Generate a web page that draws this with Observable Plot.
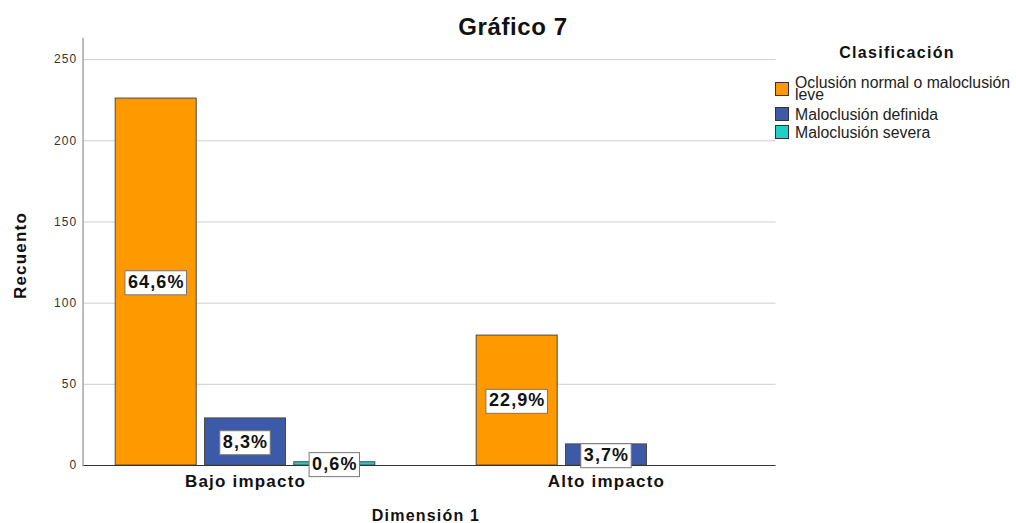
<!DOCTYPE html>
<html>
<head>
<meta charset="utf-8">
<script src="https://cdn.jsdelivr.net/npm/d3@7"></script>
<script src="https://cdn.jsdelivr.net/npm/@observablehq/plot@0.6"></script>
<style>
  html, body { margin: 0; padding: 0; background: #fff; }
  #wrap { position: relative; width: 1016px; height: 523px; overflow: hidden; font-family: "Liberation Sans", Arial, sans-serif; }
  #wrap svg { position: absolute; left: 0; top: 0; }
  .title { position: absolute; left: 0; width: 1026px; top: 15px; text-align: center; font-size: 24px; line-height: 24px; font-weight: bold; letter-spacing: 0.6px; color: #111; }
  .ltitle { position: absolute; left: 797px; width: 200px; top: 45px; text-align: center; font-size: 16px; line-height: 16px; font-weight: bold; letter-spacing: 1.3px; color: #111; }
  .sw { position: absolute; left: 775px; width: 14px; height: 14px; box-sizing: border-box; border: 1px solid #333; }
  .lt { position: absolute; left: 795px; width: 224px; font-size: 15.8px; line-height: 12px; color: #222; }
  .pct text { letter-spacing: 1.1px; }
  .ytick text { letter-spacing: 1px; }
  .bold1 text { letter-spacing: 1.2px; }
</style>
</head>
<body>
<div id="wrap"></div>
<script>
// ---- data ----
const groups = ["Bajo impacto", "Alto impacto"];
const categories = ["Oclusión normal o maloclusión leve", "Maloclusión definida", "Maloclusión severa"];
const bajoCounts = [226, 29, 2];
const altoCounts = [80, 13, 0];
const colors = ["#ff9900", "#3c5aa8", "#20cfca"];
const yTicks = [0, 50, 100, 150, 200, 250];
const chartTitle = "Gráfico 7";
const legendTitle = "Clasificación";
const xLabel = "Dimensión 1";
const yLabel = "Recuento";

const countsByGroup = [bajoCounts, altoCounts];
const rows = groups.flatMap((g, gi) => categories.map((c, ci) => ({group: g, category: c, count: countsByGroup[gi][ci]})));
const total = d3.sum(rows, d => d.count);
rows.forEach(d => { d.label = (d.count / total * 100).toFixed(1).replace(".", ",") + "%"; });
const shown = rows.filter(d => d.count > 0);

const W = 1016, ML = 76, MR = 241;
const plotW = W - ML - MR;

const chart = Plot.plot({
  width: W,
  height: 523,
  marginLeft: ML,
  marginRight: MR,
  marginTop: 38,
  marginBottom: 58,
  style: {fontFamily: "'Liberation Sans', Arial, sans-serif", background: "transparent", overflow: "visible"},
  fx: {domain: groups, paddingInner: 0.1, paddingOuter: 0.0182, axis: null, round: false},
  x: {domain: categories, paddingInner: 0.093, paddingOuter: 0.3655, axis: null, round: false},
  y: {domain: [0, 263]},
  color: {domain: categories, range: colors},
  marks: [
    // grid lines spanning the whole frame (drawn from the left facet)
    Plot.axisY(yTicks.filter(d => d > 0), {tickSize: -(plotW - 6), tickFormat: () => "", stroke: "#cfcfcf", strokeOpacity: 1, label: null}),
    Plot.barY(shown, {fx: "group", x: "category", y: "count", fill: "category", stroke: "#4a4a4a", strokeWidth: 1}),
    Plot.axisY([0], {tickSize: -(plotW - 6), tickFormat: () => "", stroke: "#333", strokeOpacity: 1, label: null}),
    Plot.frame({anchor: "left", stroke: "#a6a6a6", strokeWidth: 1.5, facet: "super"}),
    Plot.axisY(yTicks, {tickSize: 0, tickPadding: 6, fontSize: 12, fill: "#333", label: null, className: "ytick"}),
    Plot.text(groups, {fx: d => d, text: d => d, frameAnchor: "bottom", lineAnchor: "middle", dy: 16, fontSize: 17, fontWeight: "bold", fill: "#111", className: "bold1"}),
    Plot.text([xLabel], {text: d => d, frameAnchor: "bottom", textAnchor: "middle", lineAnchor: "middle", dy: 50, fontSize: 16, fontWeight: "bold", fill: "#111", facet: "super", className: "bold1"}),
    Plot.text([yLabel], {text: d => d, frameAnchor: "left", textAnchor: "middle", rotate: -90, lineAnchor: "middle", dx: -63, dy: 3.5, fontSize: 17, fontWeight: "bold", fill: "#111", facet: "super", className: "bold1"}),
    Plot.text(shown, {fx: "group", x: "category", y: d => d.count / 2, text: "label", fontSize: 18, fontWeight: "bold", fill: "#111", className: "pct"})
  ]
});

const wrap = document.getElementById("wrap");
wrap.appendChild(chart);

// white boxes behind percentage labels
chart.querySelectorAll(".pct text").forEach(t => {
  const b = t.getBBox();
  const r = document.createElementNS("http://www.w3.org/2000/svg", "rect");
  r.setAttribute("x", b.x - 3);
  r.setAttribute("y", b.y - 1);
  r.setAttribute("width", b.width + 5);
  r.setAttribute("height", b.height + 4);
  r.setAttribute("fill", "#fff");
  r.setAttribute("stroke", "#777");
  r.setAttribute("stroke-width", 1);
  if (t.getAttribute("transform")) r.setAttribute("transform", t.getAttribute("transform"));
  t.parentNode.insertBefore(r, t);
});

// title
const title = document.createElement("div");
title.className = "title";
title.textContent = chartTitle;
wrap.appendChild(title);

// legend
const lt = document.createElement("div");
lt.className = "ltitle";
lt.textContent = legendTitle;
wrap.appendChild(lt);
const swTops = [82, 107, 125];
const txTops = [76.5, 108.5, 126.5];
categories.forEach((c, i) => {
  const s = document.createElement("div");
  s.className = "sw";
  s.style.top = swTops[i] + "px";
  s.style.background = colors[i];
  wrap.appendChild(s);
  const t = document.createElement("div");
  t.className = "lt";
  t.style.top = txTops[i] + "px";
  t.textContent = c;
  wrap.appendChild(t);
});
</script>
</body>
</html>
